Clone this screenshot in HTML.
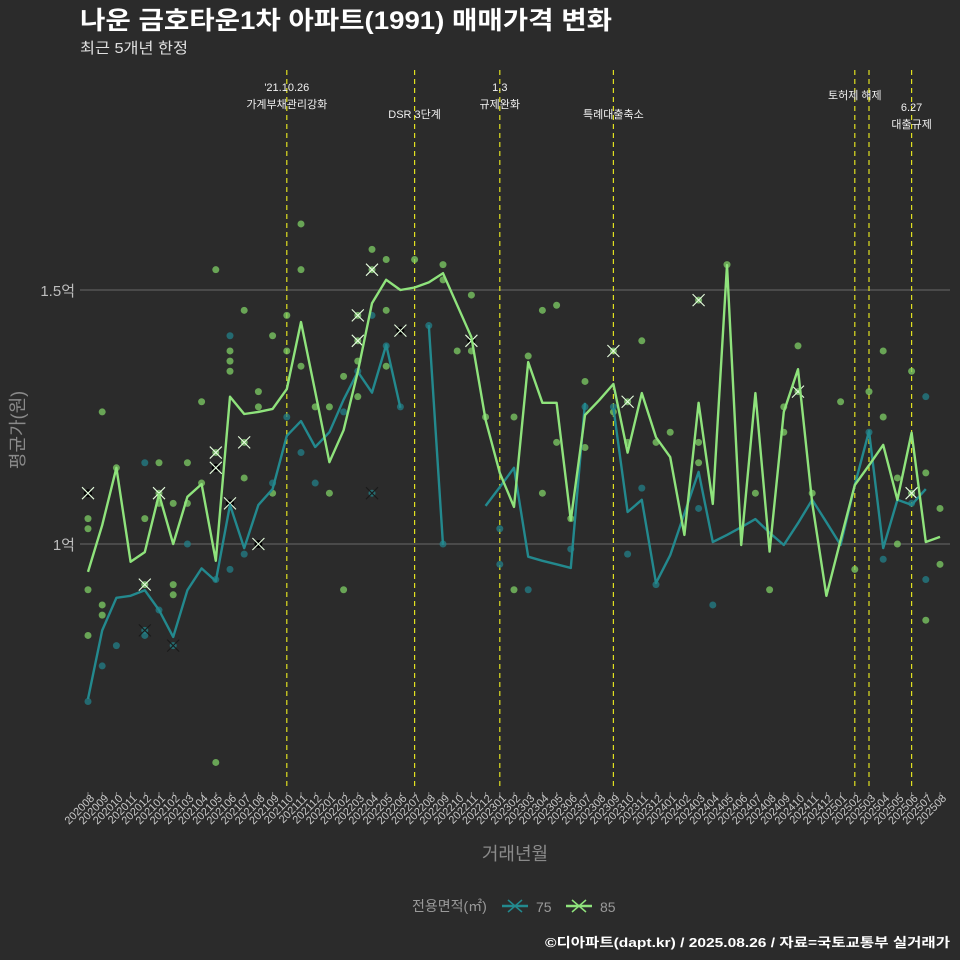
<!DOCTYPE html>
<html><head><meta charset="utf-8">
<style>
html,body{margin:0;padding:0;background:#2b2b2b;}
svg{display:block;font-family:"Liberation Sans","Noto Sans CJK KR",sans-serif;}
</style></head>
<body>
<svg id="chart" width="960" height="960" viewBox="0 0 960 960" xmlns="http://www.w3.org/2000/svg">
<rect x="0" y="0" width="960" height="960" fill="#2b2b2b"/>
<text x="80" y="29" fill="#ffffff" font-size="25" font-weight="bold" textLength="532" lengthAdjust="spacingAndGlyphs">나운 금호타운1차 아파트(1991) 매매가격 변화</text>
<text x="80" y="53" fill="#e0e0e0" font-size="15" textLength="108" lengthAdjust="spacingAndGlyphs">최근 5개년 한정</text>
<g id="grid"></g>
<g id="vlines"></g>
<g id="points"></g>
<g id="lines"></g>
<g id="xaxis"></g>
<text transform="translate(24,430) rotate(-90)" text-anchor="middle" fill="#8a8a8a" font-size="18">평균가(원)</text>
<text x="515" y="860" text-anchor="middle" fill="#8a8a8a" font-size="18">거래년월</text>
<g>
<text x="412" y="911" fill="#9a9a9a" font-size="14">전용면적(㎡)</text>
<g>
<line x1="502" y1="906" x2="528" y2="906" stroke="#23898e" stroke-width="2.5"/>
<path d="M508,900 L522,912 M522,900 L508,912" stroke="#23898e" stroke-width="1.5"/>
<text x="536" y="912" fill="#9a9a9a" font-size="14">75</text></g>
<g>
<line x1="566" y1="906" x2="592" y2="906" stroke="#8fe37c" stroke-width="2.5"/>
<path d="M572,900 L586,912 M586,900 L572,912" stroke="#8fe37c" stroke-width="1.5"/>
<text x="600" y="912" fill="#9a9a9a" font-size="14">85</text></g>
</g>
<text x="545" y="947" fill="#ffffff" font-size="13" font-weight="bold" textLength="405" lengthAdjust="spacingAndGlyphs">©디아파트(dapt.kr) / 2025.08.26 / 자료=국토교통부 실거래가</text>
</svg>
<script>
const months = ["202008","202009","202010","202011","202012","202101","202102","202103","202104","202105","202106","202107","202108","202109","202110","202111","202112","202201","202202","202203","202204","202205","202206","202207","202208","202209","202210","202211","202212","202301","202302","202303","202304","202305","202306","202307","202308","202309","202310","202311","202312","202401","202402","202403","202404","202405","202406","202407","202408","202409","202410","202411","202412","202501","202502","202503","202504","202505","202506","202507","202508"];
const yTicks = [1.0, 1.5];
const yTickLabels = ["1억", "1.5억"];
const series85 = [0.945,1.037,1.15,0.965,0.984,1.098,1.0,1.093,1.118,0.967,1.29,1.256,1.26,1.266,1.305,1.437,1.30,1.161,1.224,1.339,1.474,1.52,1.5,1.505,1.515,1.533,1.47,1.407,1.244,1.14,1.073,1.358,1.278,1.278,1.047,1.254,1.283,1.315,1.18,1.297,1.21,1.171,1.018,1.278,1.079,1.549,0.998,1.297,0.985,1.26,1.344,1.081,0.898,1.008,1.116,1.155,1.195,1.087,1.219,1.004,1.014];
const series75 = [0.695,0.83,0.894,0.898,0.909,0.87,0.817,0.909,0.952,0.927,1.077,0.992,1.077,1.108,1.213,1.242,1.191,1.22,1.284,1.339,1.298,1.392,1.268,null,1.431,0.998,null,null,1.075,1.112,1.15,0.975,0.967,0.96,0.953,1.278,null,1.268,1.063,1.087,0.923,0.978,1.06,1.142,1.004,1.018,1.033,1.049,1.022,0.998,1.041,1.087,1.043,0.998,1.116,1.222,0.992,1.087,1.077,1.108,null];
const pts85 = [[0,1.05],[0,1.03],[0,0.91],[0,0.82],[1,1.26],[1,0.88],[1,0.86],[2,1.15],[4,1.05],[5,1.08],[5,1.16],[6,1.08],[6,0.92],[6,0.9],[7,1.16],[7,1.08],[8,1.28],[8,1.12],[9,1.54],[9,0.57],[10,1.34],[10,1.36],[10,1.38],[11,1.46],[11,1.13],[12,1.27],[12,1.3],[13,1.1],[13,1.41],[14,1.45],[14,1.38],[15,1.63],[15,1.54],[15,1.35],[16,1.27],[17,1.27],[17,1.1],[18,0.91],[18,1.33],[19,1.36],[19,1.29],[20,1.58],[21,1.56],[21,1.46],[21,1.35],[23,1.56],[25,1.55],[25,1.52],[26,1.38],[27,1.49],[27,1.38],[28,1.25],[30,1.25],[30,0.91],[31,1.37],[32,1.46],[32,1.1],[33,1.47],[33,1.2],[34,1.05],[35,1.32],[35,1.19],[37,1.26],[38,1.2],[39,1.4],[40,1.2],[41,1.22],[43,1.16],[43,1.2],[45,1.55],[47,1.1],[48,0.91],[49,1.22],[49,1.27],[50,1.39],[51,1.1],[53,1.28],[54,0.95],[55,1.3],[56,1.38],[56,1.25],[57,1.13],[57,1.0],[58,1.34],[59,1.14],[59,0.85],[60,1.07],[60,0.96]];
const pts75 = [[0,0.69],[1,0.76],[2,0.8],[4,1.16],[4,0.82],[5,0.87],[7,1.0],[9,0.93],[10,1.41],[10,0.95],[11,0.98],[13,1.12],[14,1.25],[15,1.18],[16,1.12],[18,1.26],[19,1.34],[20,1.45],[21,1.39],[22,1.27],[24,1.43],[25,1.0],[29,1.03],[29,0.96],[31,0.91],[34,0.99],[35,1.27],[37,1.27],[38,0.98],[39,1.11],[40,0.92],[43,1.07],[44,0.88],[55,1.22],[56,0.97],[58,1.08],[59,1.29],[59,0.93]];
const crossIdx = [0,4,4,5,6,9,9,10,11,12,19,19,20,20,22,27,37,38,43,50,58];
const crossVal = [1.1,0.92,0.83,1.1,0.8,1.15,1.18,1.08,1.2,1.0,1.45,1.4,1.54,1.1,1.42,1.4,1.38,1.28,1.48,1.3,1.1];
const crossType = ["d","g","t","g","t","d","g","d","g","d","g","g","g","t","d","d","g","g","g","g","g"];
const eventIdx = [14,23,29,37,54,55,58];
const eventLabels = [["'21.10.26","가계부채관리강화"],["","DSR 3단계"],["1.3","규제완화"],["","특례대출축소"],["토허제 해제",""],["",""],["6.27","대출규제"]];

const NS="http://www.w3.org/2000/svg";
const X0=88, STEP=14.2, Y1=544, PX=508;
function xs(i){return X0+i*STEP;}
function ys(v){return Y1-(v-1)*PX;}
function mk(tag,attrs,parent){const e=document.createElementNS(NS,tag);for(const k in attrs)e.setAttribute(k,attrs[k]);parent.appendChild(e);return e;}
const grid=document.getElementById('grid');
yTicks.forEach((t,i)=>{
  const l=mk('line',{x1:80,x2:950,y1:ys(t),y2:ys(t),stroke:'#6a6a6a','stroke-width':1},grid);
  
  
  const tx=mk('text',{x:75,y:ys(t)+6,'text-anchor':'end',fill:'#bdbdbd','font-size':15},grid);
  tx.textContent=yTickLabels[i];
  
  
});
const vl=document.getElementById('vlines');
eventIdx.forEach((ei,k)=>{
  const x=xs(ei);
  const l=mk('line',{x1:x,x2:x,y1:70,y2:790,stroke:'#e0e020','stroke-width':1.2,'stroke-dasharray':'5,4'},vl);
  
  
  const lab=eventLabels[k];
  let ys0 = lab[0]&&lab[1]? [91,108] : (lab[1]?[0,118]:[99,0]);
  if(ei===58) ys0=[111,128];
  lab.forEach((s,j)=>{ if(!s) return;
    const t=mk('text',{x:x,y:ys0[j],'text-anchor':'middle',fill:'#f0f0f0','font-size':11},vl);
    t.textContent=s;
    
    
  });
});
const pg=document.getElementById('points');
pts85.forEach(p=>{
  const c=mk('circle',{cx:xs(p[0]),cy:ys(p[1]),r:3.5,fill:'#7fcf66','fill-opacity':0.75},pg);
  
  
});
pts75.forEach(p=>{
  const c=mk('circle',{cx:xs(p[0]),cy:ys(p[1]),r:3.5,fill:'#23808a','fill-opacity':0.75},pg);
  
  
});
crossIdx.forEach((ci,k)=>{
  const x=xs(ci),y=ys(crossVal[k]);
  const col=crossType[k]==='t'?'#23898e':'#8fe37c';
  if(crossType[k]==='d') mk('circle',{cx:x,cy:y,r:4,fill:'#000'},pg);
  else mk('circle',{cx:x,cy:y,r:3.5,fill:col,'fill-opacity':0.7},pg);
  const m=mk('path',{d:`M${x-6},${y-6}L${x+6},${y+6}M${x+6},${y-6}L${x-6},${y+6}`,stroke:crossType[k]==='t'?'#1a1a1a':'#e8ffe0','stroke-width':1.1},pg);
  
  
});
const lg=document.getElementById('lines');
function drawSeries(arr,col,name){
  let d='',pen=false;
  arr.forEach((v,i)=>{ if(v===null){pen=false;return;} d+=(pen?'L':'M')+xs(i).toFixed(1)+','+ys(v).toFixed(1); pen=true; });
  const p=mk('path',{d:d,fill:'none',stroke:col,'stroke-width':2.4,'stroke-linejoin':'round'},lg);
  
  
}
drawSeries(series75,'#23898e','line-75');
drawSeries(series85,'#8fe37c','line-85');
const xa=document.getElementById('xaxis');
months.forEach((m,i)=>{
  const x=xs(i);
  mk('line',{x1:x,x2:x,y1:792,y2:796,stroke:'#888','stroke-width':1},xa);
  const t=mk('text',{x:x+7,y:799,'text-anchor':'end',fill:'#c8c8c8','font-size':11,transform:`rotate(-45 ${x+7} 799)`},xa);
  t.textContent=m;
  
  
});
</script>
</body></html>
